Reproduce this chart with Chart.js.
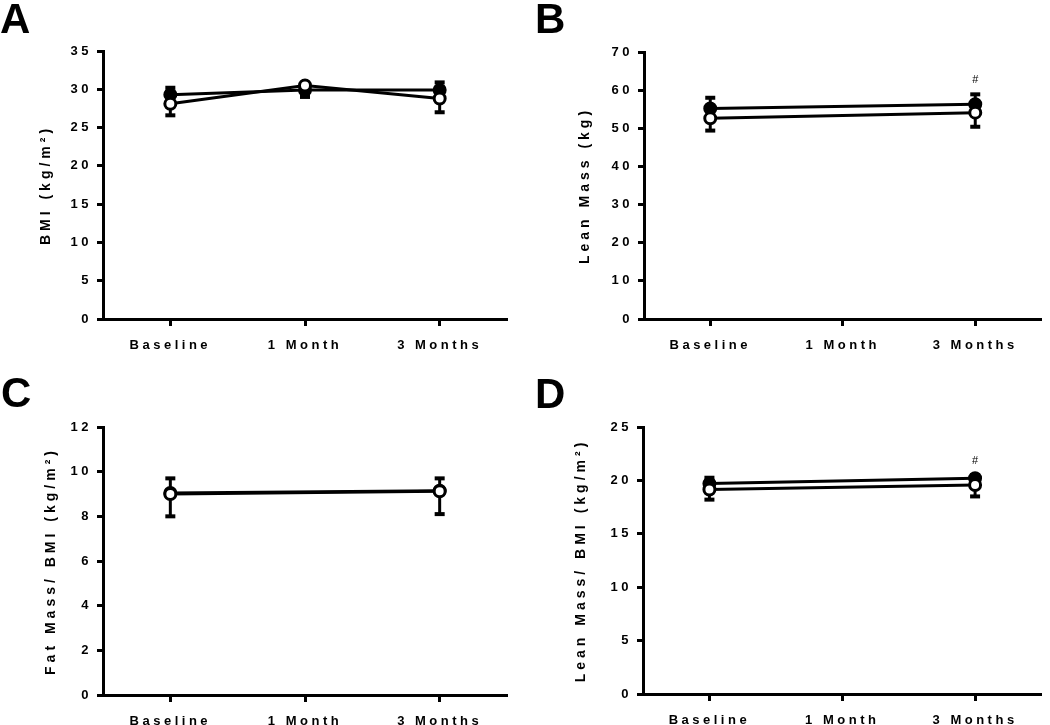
<!DOCTYPE html>
<html>
<head>
<meta charset="utf-8">
<script src="https://cdn.jsdelivr.net/npm/chart.js@4.4.1/dist/chart.umd.min.js"></script>
<style>
  html, body { margin: 0; padding: 0; background: #fff; }
  #wrap { position: relative; width: 1050px; height: 725px; overflow: hidden; }
  canvas { position: absolute; }
</style>
</head>
<body>
<div id="wrap">
  <canvas id="panelA" width="525" height="362" style="left:0;top:0"></canvas>
  <canvas id="panelB" width="525" height="362" style="left:525px;top:0"></canvas>
  <canvas id="panelC" width="525" height="363" style="left:0;top:362px"></canvas>
  <canvas id="panelD" width="525" height="363" style="left:525px;top:362px"></canvas>
</div>
<script>
const categories = ["Baseline", "1 Month", "3 Months"];

// A: BMI  (filled series: error bar up, open series: error bar down)
const bmiFilled = [29.3, 29.9, 29.9];
const bmiFilledErr = [0.9, 0.9, 1.0];
const bmiOpen = [28.1, 30.5, 28.8];
const bmiOpenErr = [1.5, 1.5, 1.8];
const bmiTicks = [0, 35, 5];

// B: lean mass
const leanFilled = [55.2, null, 56.3];
const leanFilledErr = [2.8, null, 2.6];
const leanOpen = [52.6, null, 54.1];
const leanOpenErr = [3.2, null, 3.7];
const leanTicks = [0, 70, 10];
const leanMarks = ["", "", "#"];

// C: fat mass / BMI
const fatBmiFilled = [9.05, null, 9.15];
const fatBmiFilledErr = [0.65, null, 0.55];
const fatBmiOpen = [9.0, null, 9.12];
const fatBmiOpenErr = [1.0, null, 1.02];
const fatBmiTicks = [0, 12, 2];

// D: lean mass / BMI
const leanBmiFilled = [19.7, null, 20.2];
const leanBmiFilledErr = [0.55, null, 0.3];
const leanBmiOpen = [19.15, null, 19.57];
const leanBmiOpenErr = [0.95, null, 1.07];
const leanBmiTicks = [0, 25, 5];
const leanBmiMarks = ["", "", "#"];

const FONT = "'Liberation Sans', Arial, Helvetica, sans-serif";

// GraphPad style spaced-out lettering
const spacing = {
    id: "spacing",
    beforeDraw(chart) {
        chart.ctx.letterSpacing = "3.5px";
    },
};

// one-sided error bars: dir +1 draws upward, -1 downward
const errorBars = {
    id: "errorBars",
    beforeDatasetsDraw(chart) {
        const ctx = chart.ctx;
        const yScale = chart.scales.y;
        ctx.save();
        ctx.strokeStyle = "#000";
        ctx.fillStyle = "#000";
        ctx.lineWidth = 3;
        chart.data.datasets.forEach((ds, i) => {
            const meta = chart.getDatasetMeta(i);
            ds.data.forEach((v, j) => {
                const e = ds.errors[j];
                if (v === null || e === null) return;
                const x = meta.data[j].x;
                const y0 = yScale.getPixelForValue(v);
                const y1 = yScale.getPixelForValue(v + ds.errorDir * e);
                ctx.beginPath();
                ctx.moveTo(x, y0);
                ctx.lineTo(x, y1);
                ctx.stroke();
                ctx.fillRect(x - 5, y1 - 2, 10, 4);
            });
        });
        ctx.restore();
    },
};

const panelText = {
    id: "panelText",
    afterDraw(chart, args, opts) {
        const ctx = chart.ctx;
        const yScale = chart.scales.y;
        const area = chart.chartArea;
        ctx.save();
        ctx.fillStyle = "#000";

        // panel letter
        ctx.letterSpacing = "0px";
        ctx.textBaseline = "alphabetic";
        ctx.textAlign = "left";
        ctx.font = "bold 42px " + FONT;
        ctx.fillText(opts.letter, opts.letterX, opts.letterY);

        // y axis title
        ctx.save();
        ctx.translate(opts.titleX, (area.top + area.bottom) / 2);
        ctx.rotate(-Math.PI / 2);
        ctx.letterSpacing = "4px";
        ctx.font = "bold 14px " + FONT;
        ctx.textAlign = "center";
        ctx.textBaseline = "middle";
        ctx.fillText(opts.title, 0, 0);
        ctx.restore();

        // significance marks
        if (opts.marks) {
            ctx.letterSpacing = "0px";
            ctx.font = "11px " + FONT;
            ctx.textAlign = "center";
            ctx.textBaseline = "middle";
            opts.marks.forEach((m, j) => {
                if (!m) return;
                let topPx = Infinity;
                chart.data.datasets.forEach((ds) => {
                    const v = ds.data[j];
                    if (v === null) return;
                    const ext = ds.errorDir > 0 ? v + ds.errors[j] : v;
                    topPx = Math.min(topPx, yScale.getPixelForValue(ext));
                });
                const x = chart.getDatasetMeta(0).data[j].x;
                ctx.fillText(m, x, topPx - 14);
            });
        }
        ctx.restore();
    },
};

function seriesStyle(fillColor) {
    return {
        borderColor: "#000",
        borderWidth: 3,
        pointRadius: 5.5,
        pointBorderWidth: 3,
        pointBorderColor: "#000",
        pointBackgroundColor: fillColor,
        spanGaps: true,
        tension: 0,
        fill: false,
    };
}

function makePanel(canvasId, p) {
    const ctx = document.getElementById(canvasId).getContext("2d");
    const L = p.layout;

    return new Chart(ctx, {
        type: "line",
        data: {
            labels: categories,
            datasets: [
                Object.assign({ data: p.open, errors: p.openErr, errorDir: -1, order: 0 }, seriesStyle("#fff")),
                Object.assign({ data: p.filled, errors: p.filledErr, errorDir: 1, order: 1 }, seriesStyle("#000")),
            ],
        },
        options: {
            responsive: false,
            animation: false,
            layout: {
                padding: { left: 0, top: L.top, right: L.right, bottom: 0 },
            },
            plugins: {
                legend: { display: false },
                tooltip: { enabled: false },
                panelText: {
                    letter: p.letter,
                    letterX: L.letterX,
                    letterY: L.letterY,
                    title: p.title,
                    titleX: L.titleX,
                    marks: p.marks,
                },
            },
            scales: {
                x: {
                    offset: true,
                    grid: {
                        drawOnChartArea: false,
                        drawTicks: true,
                        tickLength: 7,
                        tickWidth: 3,
                        color: "#000",
                    },
                    border: { display: true, color: "#000", width: 3 },
                    ticks: {
                        color: "#000",
                        font: { family: FONT, size: 13, weight: "bold" },
                        padding: 12,
                        autoSkip: false,
                        maxRotation: 0,
                    },
                    afterFit(scale) {
                        scale.height = L.xHeight;
                        scale.paddingLeft = 0;
                        scale.paddingRight = 0;
                    },
                },
                y: {
                    min: p.ticks[0],
                    max: p.ticks[1],
                    grid: {
                        drawOnChartArea: false,
                        drawTicks: true,
                        tickLength: 6,
                        tickWidth: 3,
                        color: "#000",
                    },
                    border: { display: true, color: "#000", width: 3 },
                    ticks: {
                        stepSize: p.ticks[2],
                        color: "#000",
                        font: { family: FONT, size: 13, weight: "bold" },
                        padding: 5,
                    },
                    afterFit(scale) {
                        scale.width = L.yWidth;
                        scale.paddingTop = 0;
                        scale.paddingBottom = 0;
                    },
                },
            },
        },
        plugins: [spacing, errorBars, panelText],
    });
}

makePanel("panelA", {
    letter: "A",
    title: "BMI (kg/m²)",
    filled: bmiFilled, filledErr: bmiFilledErr,
    open: bmiOpen, openErr: bmiOpenErr,
    ticks: bmiTicks,
    layout: { yWidth: 103, xHeight: 43, top: 51, right: 18, titleX: 46, letterX: 0, letterY: 33 },
});

makePanel("panelB", {
    letter: "B",
    title: "Lean Mass (kg)",
    filled: leanFilled, filledErr: leanFilledErr,
    open: leanOpen, openErr: leanOpenErr,
    ticks: leanTicks,
    marks: leanMarks,
    layout: { yWidth: 119, xHeight: 43, top: 52, right: 4, titleX: 60, letterX: 10, letterY: 33 },
});

makePanel("panelC", {
    letter: "C",
    title: "Fat Mass/ BMI (kg/m²)",
    filled: fatBmiFilled, filledErr: fatBmiFilledErr,
    open: fatBmiOpen, openErr: fatBmiOpenErr,
    ticks: fatBmiTicks,
    layout: { yWidth: 103, xHeight: 30, top: 65, right: 18, titleX: 51, letterX: 1, letterY: 45 },
});

makePanel("panelD", {
    letter: "D",
    title: "Lean Mass/ BMI (kg/m²)",
    filled: leanBmiFilled, filledErr: leanBmiFilledErr,
    open: leanBmiOpen, openErr: leanBmiOpenErr,
    ticks: leanBmiTicks,
    marks: leanBmiMarks,
    layout: { yWidth: 118, xHeight: 31, top: 65, right: 5, titleX: 56, letterX: 10, letterY: 46 },
});
</script>
</body>
</html>
